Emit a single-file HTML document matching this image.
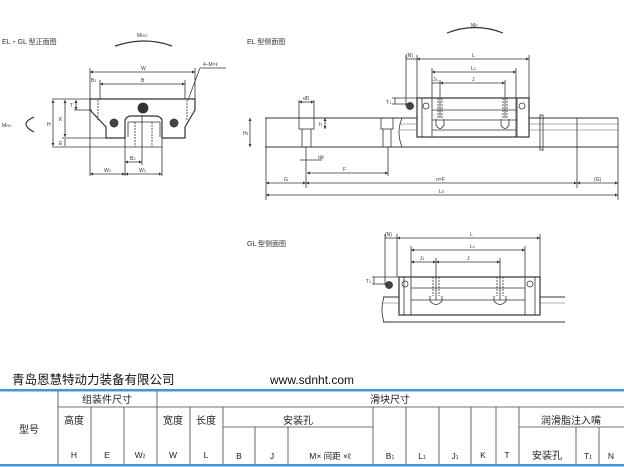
<!DOCTYPE html>
<html><head><meta charset="utf-8"><style>
html,body{margin:0;padding:0;background:#fff;}
svg{display:block;}
text{font-family:"Liberation Sans","Noto Sans CJK SC",sans-serif;}
</style></head><body>
<svg width="624" height="467" viewBox="0 0 624 467" xmlns="http://www.w3.org/2000/svg">
<defs>
<marker id="a" viewBox="0 0 6 6" refX="6" refY="3" markerWidth="4" markerHeight="4" orient="auto-start-reverse"><path d="M0,0L6,3L0,6z" fill="#333"/></marker>
</defs>
<g fill="none" stroke="#333" stroke-width="0.8">
<!-- ===== Front view ===== -->
<path d="M115,46 Q145,36 172,46" stroke-width="1.2"/>
<path d="M34,117 Q18,124 34,132" stroke-width="1.2"/>
<!-- block -->
<path d="M90,99 L195,99 L195,110 L185,127 L185,138 L162,138 L162,120 Q160,116 156,116 L131,116 Q127,116 125,120 L125,138 L106,138 L106,127 L90,110 Z" stroke-width="1.2"/>
<path d="M128,137 L128,122 L160,122 L160,137"/>
<path d="M125,138 L125,147 L162,147 L162,138"/>
<line x1="135" y1="122" x2="135" y2="147" stroke-dasharray="2,1"/>
<line x1="152" y1="122" x2="152" y2="147" stroke-dasharray="2,1"/>
<line x1="98" y1="100" x2="98" y2="120" stroke-dasharray="2,1"/>
<line x1="187" y1="100" x2="187" y2="120" stroke-dasharray="2,1"/>
<circle cx="143" cy="108" r="5" fill="#333"/>
<circle cx="114" cy="123" r="4" fill="#444"/>
<circle cx="174" cy="123" r="4" fill="#444"/>
<!-- dims -->
<line x1="90" y1="72" x2="195" y2="72" marker-start="url(#a)" marker-end="url(#a)"/>
<line x1="100" y1="84" x2="185" y2="84" marker-start="url(#a)" marker-end="url(#a)"/>
<line x1="90" y1="68" x2="90" y2="176"/>
<line x1="195" y1="68" x2="195" y2="99"/>
<line x1="100" y1="80" x2="100" y2="99"/>
<line x1="185" y1="80" x2="185" y2="99"/>
<line x1="188" y1="100" x2="200" y2="68"/><line x1="200" y1="68" x2="226" y2="68"/>
<line x1="52" y1="99" x2="90" y2="99"/>
<line x1="52" y1="147" x2="125" y2="147"/>
<line x1="62" y1="138" x2="106" y2="138"/>
<line x1="53" y1="100" x2="53" y2="146" marker-start="url(#a)" marker-end="url(#a)"/>
<line x1="65" y1="100" x2="65" y2="137" marker-start="url(#a)" marker-end="url(#a)"/>
<line x1="65" y1="139" x2="65" y2="146"/>
<line x1="76" y1="100" x2="76" y2="110" marker-start="url(#a)" marker-end="url(#a)"/>
<line x1="74" y1="110" x2="92" y2="110"/>
<line x1="125" y1="147" x2="125" y2="176"/>
<line x1="142" y1="115" x2="142" y2="165"/>
<line x1="162" y1="147" x2="162" y2="176"/>
<line x1="125" y1="162" x2="142" y2="162" marker-start="url(#a)" marker-end="url(#a)"/>
<line x1="90" y1="174" x2="125" y2="174" marker-start="url(#a)" marker-end="url(#a)"/>
<line x1="125" y1="174" x2="162" y2="174" marker-start="url(#a)" marker-end="url(#a)"/>
<!-- ===== EL side view ===== -->
<path d="M447,33 Q475,22 503,33" stroke-width="1.2"/>
<line x1="265" y1="118" x2="618" y2="118" stroke-width="1.1"/>
<line x1="265" y1="147" x2="618" y2="147" stroke-width="1.1"/>
<line x1="400" y1="124" x2="618" y2="124" stroke="#999"/>
<line x1="400" y1="130" x2="618" y2="130" stroke="#999"/>
<path d="M402,118 Q396,132 402,147"/>
<line x1="618" y1="118" x2="618" y2="147"/>
<rect x="540" y="115" width="3" height="35"/>
<rect x="417" y="98" width="112" height="39" fill="#fff" stroke-width="1.2"/>
<line x1="422" y1="98" x2="422" y2="137"/><line x1="517" y1="98" x2="517" y2="137"/>
<line x1="432" y1="98" x2="432" y2="137"/><line x1="516" y1="98" x2="516" y2="137"/>
<line x1="432" y1="110" x2="516" y2="110"/><line x1="432" y1="120" x2="516" y2="120"/>
<line x1="432" y1="130" x2="516" y2="130"/>
<path d="M436,119 L436,125 Q440,132 444,125 L444,119"/><path d="M501,119 L501,125 Q505,132 509,125 L509,119"/>
<line x1="438" y1="98" x2="438" y2="118" stroke-dasharray="2,1"/><line x1="442" y1="98" x2="442" y2="118" stroke-dasharray="2,1"/>
<line x1="503" y1="98" x2="503" y2="118" stroke-dasharray="2,1"/><line x1="507" y1="98" x2="507" y2="118" stroke-dasharray="2,1"/>
<circle cx="426" cy="106" r="3"/><circle cx="522" cy="106" r="3"/>
<circle cx="410" cy="106" r="3.5" fill="#444"/>
<rect x="299" y="118" width="15" height="11"/><line x1="302" y1="129" x2="302" y2="147"/><line x1="311" y1="129" x2="311" y2="147"/>
<rect x="381" y="118" width="12" height="11"/><line x1="383" y1="129" x2="383" y2="147"/><line x1="391" y1="129" x2="391" y2="147"/>
<line x1="299" y1="100" x2="299" y2="118"/><line x1="314" y1="100" x2="314" y2="118"/>
<line x1="299" y1="102" x2="314" y2="102" marker-start="url(#a)" marker-end="url(#a)"/>
<line x1="325" y1="118" x2="325" y2="129" marker-start="url(#a)" marker-end="url(#a)"/>
<line x1="300" y1="160" x2="322" y2="160"/>
<line x1="250" y1="118" x2="250" y2="147" marker-start="url(#a)" marker-end="url(#a)"/>
<line x1="266" y1="118" x2="266" y2="200"/><line x1="306" y1="147" x2="306" y2="188"/>
<line x1="388" y1="147" x2="388" y2="176"/><line x1="577" y1="118" x2="577" y2="188"/><line x1="618" y1="147" x2="618" y2="200"/>
<line x1="307" y1="173" x2="388" y2="173" marker-start="url(#a)" marker-end="url(#a)"/>
<line x1="266" y1="183" x2="306" y2="183" marker-start="url(#a)" marker-end="url(#a)"/>
<line x1="306" y1="183" x2="577" y2="183" marker-start="url(#a)" marker-end="url(#a)"/>
<line x1="577" y1="183" x2="618" y2="183" marker-start="url(#a)" marker-end="url(#a)"/>
<line x1="266" y1="195" x2="618" y2="195" marker-start="url(#a)" marker-end="url(#a)"/>
<line x1="406" y1="55" x2="406" y2="106"/><line x1="417" y1="55" x2="417" y2="98"/><line x1="529" y1="55" x2="529" y2="98"/>
<line x1="406" y1="59" x2="417" y2="59"/>
<line x1="417" y1="59" x2="529" y2="59" marker-start="url(#a)" marker-end="url(#a)"/>
<line x1="432" y1="68" x2="432" y2="98"/><line x1="516" y1="68" x2="516" y2="98"/>
<line x1="432" y1="72" x2="516" y2="72" marker-start="url(#a)" marker-end="url(#a)"/>
<line x1="440" y1="80" x2="440" y2="118"/><line x1="505" y1="80" x2="505" y2="118"/>
<line x1="432" y1="83" x2="440" y2="83"/>
<line x1="440" y1="83" x2="505" y2="83" marker-start="url(#a)" marker-end="url(#a)"/>
<line x1="392" y1="98" x2="417" y2="98"/><line x1="392" y1="104" x2="410" y2="104"/>
<line x1="395" y1="98" x2="395" y2="104"/>
<!-- ===== GL side view ===== -->
<line x1="383" y1="297" x2="565" y2="297" stroke-width="1.1"/>
<line x1="383" y1="322" x2="565" y2="322" stroke-width="1.1"/>
<line x1="383" y1="303" x2="565" y2="303" stroke="#999"/>
<path d="M384,297 Q380,310 384,322"/>
<rect x="399" y="277" width="141" height="38" fill="#fff" stroke-width="1.2"/>
<line x1="404" y1="277" x2="404" y2="315"/><line x1="535" y1="277" x2="535" y2="315"/>
<line x1="411" y1="277" x2="411" y2="315"/><line x1="525" y1="277" x2="525" y2="315"/>
<line x1="411" y1="288" x2="525" y2="288"/><line x1="411" y1="300" x2="525" y2="300"/>
<path d="M430,296 L430,301 Q436,308 442,301 L442,296"/><path d="M494,296 L494,301 Q500,308 506,301 L506,296"/>
<line x1="433" y1="277" x2="433" y2="296" stroke-dasharray="2,1"/><line x1="439" y1="277" x2="439" y2="296" stroke-dasharray="2,1"/>
<line x1="497" y1="277" x2="497" y2="296" stroke-dasharray="2,1"/><line x1="503" y1="277" x2="503" y2="296" stroke-dasharray="2,1"/>
<circle cx="405" cy="284" r="3"/><circle cx="530" cy="284" r="3"/>
<circle cx="389" cy="285" r="3.5" fill="#444"/>
<line x1="385" y1="234" x2="385" y2="285"/><line x1="397" y1="234" x2="397" y2="277"/><line x1="540" y1="234" x2="540" y2="277"/>
<line x1="385" y1="238" x2="397" y2="238"/>
<line x1="397" y1="238" x2="540" y2="238" marker-start="url(#a)" marker-end="url(#a)"/>
<line x1="411" y1="246" x2="411" y2="277"/><line x1="525" y1="246" x2="525" y2="277"/>
<line x1="411" y1="250" x2="525" y2="250" marker-start="url(#a)" marker-end="url(#a)"/>
<line x1="436" y1="258" x2="436" y2="300"/><line x1="500" y1="258" x2="500" y2="300"/>
<line x1="411" y1="262" x2="436" y2="262" marker-start="url(#a)" marker-end="url(#a)"/>
<line x1="436" y1="262" x2="500" y2="262" marker-start="url(#a)" marker-end="url(#a)"/>
<line x1="372" y1="277" x2="399" y2="277"/><line x1="372" y1="284" x2="389" y2="284"/>
<line x1="374" y1="277" x2="374" y2="284"/>
</g>
<!-- labels -->
<g font-size="7" fill="#333">
<text x="2" y="44">EL・GL 型正面图</text>
<text x="137" y="37" font-size="5">M<tspan font-size="4">RO</tspan></text>
<text x="2" y="127" font-size="5">M<tspan font-size="4">RC</tspan></text>
<text x="141" y="70" font-size="5">W</text>
<text x="141" y="82" font-size="5">B</text>
<text x="91" y="82" font-size="5">B<tspan font-size="4">1</tspan></text>
<text x="203" y="66" font-size="5">4–M×ℓ</text>
<text x="47" y="126" font-size="5">H</text>
<text x="59" y="121" font-size="5">K</text>
<text x="70" y="107" font-size="5">T</text>
<text x="59" y="145" font-size="5">E</text>
<text x="130" y="160" font-size="5">B<tspan font-size="4">2</tspan></text>
<text x="104" y="172" font-size="5">W<tspan font-size="4">2</tspan></text>
<text x="139" y="172" font-size="5">W<tspan font-size="4">1</tspan></text>
<text x="247" y="44">EL 型侧面图</text>
<text x="471" y="27" font-size="5">M<tspan font-size="4">P</tspan></text>
<text x="406" y="57" font-size="5">(N)</text>
<text x="472" y="57" font-size="5">L</text>
<text x="471" y="70" font-size="5">L<tspan font-size="4">1</tspan></text>
<text x="433" y="81" font-size="5">J<tspan font-size="4">1</tspan></text>
<text x="472" y="81" font-size="5">J</text>
<text x="386" y="104" font-size="5">T<tspan font-size="4">1</tspan></text>
<text x="303" y="100" font-size="5">dD</text>
<text x="319" y="126" font-size="5">h</text>
<text x="318" y="159" font-size="5">dd</text>
<text x="343" y="171" font-size="5">F</text>
<text x="243" y="135" font-size="5">H<tspan font-size="4">1</tspan></text>
<text x="284" y="181" font-size="5">G</text>
<text x="436" y="181" font-size="5">n×F</text>
<text x="594" y="181" font-size="5">(G)</text>
<text x="439" y="193" font-size="5">L<tspan font-size="4">0</tspan></text>
<text x="247" y="246">GL 型侧面图</text>
<text x="385" y="236" font-size="5">(N)</text>
<text x="470" y="236" font-size="5">L</text>
<text x="470" y="248" font-size="5">L<tspan font-size="4">1</tspan></text>
<text x="420" y="260" font-size="5">J<tspan font-size="4">1</tspan></text>
<text x="467" y="260" font-size="5">J</text>
<text x="366" y="283" font-size="5">T<tspan font-size="4">1</tspan></text>
</g>
<!-- header line -->
<text x="12" y="384" font-size="12.5" fill="#111" font-family="Liberation Sans,Noto Sans CJK SC,sans-serif">青岛恩慧特动力装备有限公司</text>
<text x="270" y="384" font-size="12" fill="#111">www.sdnht.com</text>
<!-- table -->
<rect x="0" y="389" width="624" height="2.5" fill="#3d9ad6"/>
<rect x="0" y="464" width="624" height="2.5" fill="#3d9ad6"/>
<g stroke="#444" stroke-width="0.8">
<line x1="58" y1="391" x2="58" y2="464"/>
<line x1="157" y1="391" x2="157" y2="464"/>
<line x1="58" y1="407" x2="624" y2="407"/>
<line x1="91" y1="407" x2="91" y2="464"/><line x1="124" y1="407" x2="124" y2="464"/>
<line x1="190" y1="407" x2="190" y2="464"/><line x1="223" y1="407" x2="223" y2="464"/>
<line x1="373" y1="407" x2="373" y2="464"/><line x1="406" y1="407" x2="406" y2="464"/>
<line x1="439" y1="407" x2="439" y2="464"/><line x1="471" y1="407" x2="471" y2="464"/>
<line x1="496" y1="407" x2="496" y2="464"/><line x1="519" y1="407" x2="519" y2="464"/>
<line x1="223" y1="427" x2="373" y2="427"/><line x1="519" y1="427" x2="624" y2="427"/>
<line x1="255" y1="427" x2="255" y2="464"/><line x1="288" y1="427" x2="288" y2="464"/>
<line x1="576" y1="427" x2="576" y2="464"/><line x1="599" y1="427" x2="599" y2="464"/>
</g>
<g font-size="10" fill="#222" text-anchor="middle">
<text x="29" y="433">型号</text>
<text x="107" y="403">组装件尺寸</text>
<text x="390" y="403">滑块尺寸</text>
<text x="74" y="424">高度</text>
<text x="173" y="424">宽度</text>
<text x="206" y="424">长度</text>
<text x="298" y="424">安装孔</text>
<text x="571" y="424">润滑脂注入嘴</text>
<g font-size="8.5">
<text x="74" y="458">H</text><text x="107" y="458">E</text><text x="140" y="458">W<tspan font-size="5">2</tspan></text>
<text x="173" y="458">W</text><text x="206" y="458">L</text>
<text x="239" y="459">B</text><text x="272" y="459">J</text>
<text x="330" y="459">M× 间距 ×ℓ</text>
<text x="390" y="459">B<tspan font-size="5">1</tspan></text><text x="422" y="459">L<tspan font-size="5">1</tspan></text>
<text x="455" y="459">J<tspan font-size="5">1</tspan></text><text x="483" y="458">K</text><text x="507" y="458">T</text>
<text x="547" y="459" font-size="10">安装孔</text><text x="588" y="459">T<tspan font-size="5">1</tspan></text><text x="611" y="459">N</text>
</g>
</g>
</svg>
</body></html>
